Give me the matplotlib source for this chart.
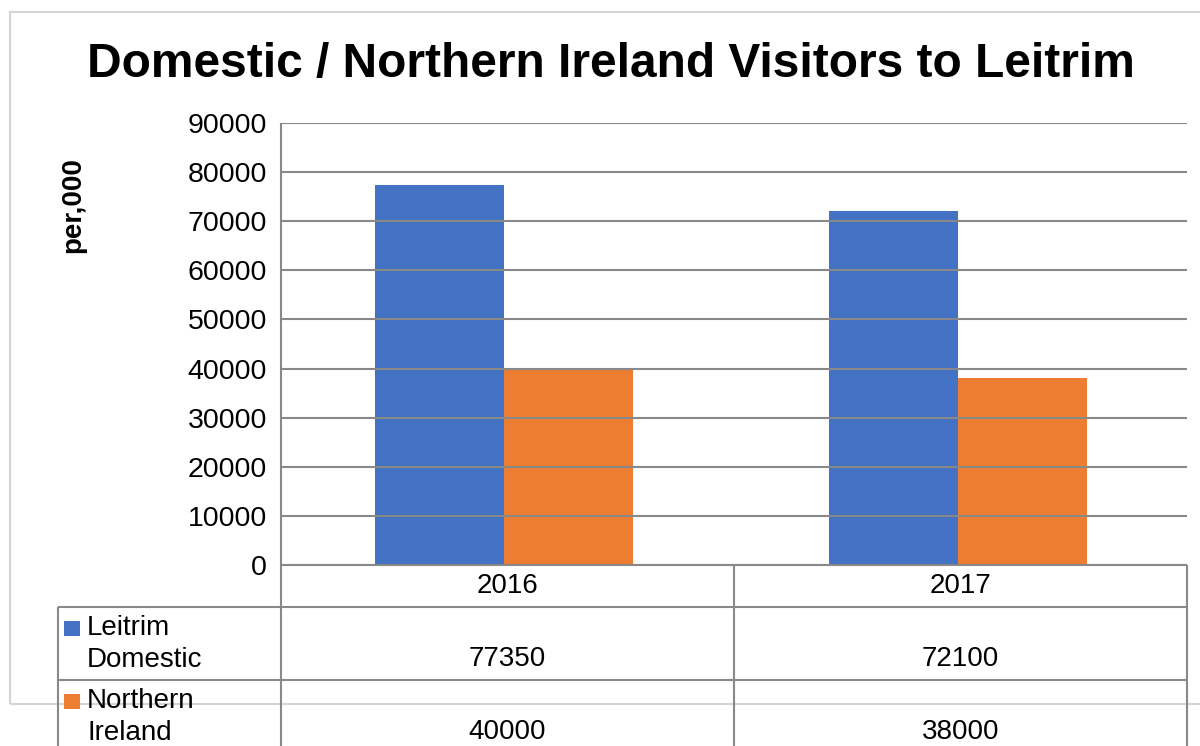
import matplotlib
matplotlib.use("Agg")
import matplotlib.pyplot as plt
from matplotlib.lines import Line2D
from matplotlib.patches import Rectangle

# Data
years = ["2016", "2017"]
series_names = ["Leitrim\nDomestic", "Northern\nIreland"]
leitrim_domestic = [77350, 72100]
northern_ireland = [40000, 38000]
y_ticks = [0, 10000, 20000, 30000, 40000, 50000, 60000, 70000, 80000, 90000]

BLUE = "#4472C4"
ORANGE = "#ED7D31"
GRID = "#898989"
FRAME = "#D4D4D4"

W, H = 1200, 746
plt.rcParams["font.family"] = ["Liberation Sans", "DejaVu Sans"]
fig = plt.figure(figsize=(W / 100, H / 100), dpi=100)


def fx(px):
    return px / W


def fy(py):
    return 1 - py / H


def hline(x0, x1, y, color=GRID, lw=1.5, z=3):
    fig.add_artist(Line2D([fx(x0), fx(x1)], [fy(y), fy(y)], color=color, lw=lw,
                          transform=fig.transFigure, zorder=z, solid_capstyle="butt"))


def vline(x, y0, y1, color=GRID, lw=1.5, z=3):
    fig.add_artist(Line2D([fx(x), fx(x)], [fy(y0), fy(y1)], color=color, lw=lw,
                          transform=fig.transFigure, zorder=z, solid_capstyle="butt"))


# Outer chart frame
fig.add_artist(Rectangle((fx(10), fy(704)), fx(1250) - fx(10), fy(12) - fy(704),
                         transform=fig.transFigure, fill=False, edgecolor=FRAME,
                         lw=1.5, zorder=0))

# Plot area
left, right, top, bottom = 281, 1187, 123, 565
ax = fig.add_axes([fx(left), fy(bottom), fx(right) - fx(left), fy(top) - fy(bottom)])
ax.set_facecolor("none")

x = [0, 1]
bw = 0.284
ax.bar([i - bw / 2 for i in x], leitrim_domestic, width=bw, color=BLUE, zorder=1)
ax.bar([i + bw / 2 for i in x], northern_ireland, width=bw, color=ORANGE, zorder=1)

ax.set_xlim(-0.491, 1.504)
ax.set_ylim(0, 90000)
ax.set_yticks(y_ticks)
ax.set_yticklabels([str(v) for v in y_ticks], fontsize=20.5)
ax.tick_params(axis="y", length=0, pad=10)
ax.set_xticks([])
ax.yaxis.grid(True, color=GRID, lw=1.5, zorder=3)
ax.set_axisbelow(False)
for s in ax.spines.values():
    s.set_visible(False)

fig.text(fx(73), fy(205), "per,000", rotation=90, fontsize=20, fontweight="bold",
         ha="center", va="center")

# Title
fig.text(fx(611), fy(64), "Domestic / Northern Ireland Visitors to Leitrim",
         fontsize=34.5, fontweight="bold", ha="center", va="center")

# Data table below the plot
col_edges = [left, 734, right]
label_left = 58
bottom_edge = 760

vline(left, top, bottom_edge)
for xe in col_edges[1:]:
    vline(xe, 565, bottom_edge)
vline(label_left, 607, bottom_edge)
hline(left, right, 565)
hline(label_left, right, 607)
hline(label_left, right, 680)

for j, yr in enumerate(years):
    cx = (col_edges[j] + col_edges[j + 1]) / 2
    fig.text(fx(cx), fy(586), yr, fontsize=20, ha="center", va="center")
    fig.text(fx(cx), fy(659), str(leitrim_domestic[j]), fontsize=20, ha="center", va="center")
    fig.text(fx(cx), fy(732), str(northern_ireland[j]), fontsize=20, ha="center", va="center")

for name, color, ytop in [(series_names[0], BLUE, 607), (series_names[1], ORANGE, 680)]:
    fig.add_artist(Rectangle((fx(64), fy(ytop + 29)), fx(16), fy(0) - fy(15),
                             transform=fig.transFigure, color=color, lw=0, zorder=4))
    first, second = name.split("\n")
    fig.text(fx(87), fy(ytop + 21), first, fontsize=20, ha="left", va="center")
    fig.text(fx(87), fy(ytop + 53), second, fontsize=20, ha="left", va="center")

fig.savefig("out.png", dpi=100, facecolor="white")
